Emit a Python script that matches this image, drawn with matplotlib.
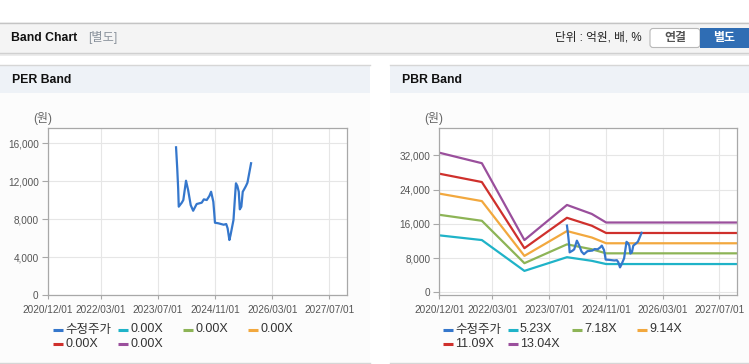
import matplotlib.pyplot as plt
import numpy as np
from matplotlib.patches import Rectangle, FancyBboxPatch

# 수정주가 (same series on both charts)
price_dates = np.array(['2023-12-01', '2023-12-11', '2023-12-19', '2023-12-24', '2024-01-19',
                        '2024-02-01', '2024-02-24', '2024-03-13', '2024-04-04', '2024-04-25',
                        '2024-05-25', '2024-07-07', '2024-07-25', '2024-08-19', '2024-09-10',
                        '2024-09-25', '2024-10-14', '2024-10-22', '2024-10-28', '2024-11-26',
                        '2025-01-10', '2025-02-01', '2025-02-13', '2025-02-28', '2025-03-10',
                        '2025-04-04', '2025-04-19', '2025-04-25', '2025-05-07', '2025-05-19',
                        '2025-05-28', '2025-06-10', '2025-06-22', '2025-07-04', '2025-07-19',
                        '2025-08-01', '2025-08-16', '2025-09-01'], dtype='datetime64[D]')
price_values = [15580, 13370, 11260, 9330, 9750, 10030, 12060, 11080, 9500, 8900,
                9610, 9750, 10100, 10030, 10450, 10900, 9850, 8630, 7640, 7580,
                7430, 7500, 7050, 5820, 6350, 7930, 10740, 11790, 11500, 10900,
                9050, 9330, 10900, 11160, 11500, 11850, 12840, 13900]

# PBR 밴드
band_dates = np.array(['2020-12-01', '2021-12-01', '2022-12-01', '2023-12-01',
                       '2024-07-01', '2024-11-01', '2027-12-01'], dtype='datetime64[D]')
pbr_523 = [13300, 12200, 5000, 8200, 7350, 6600, 6600]
pbr_718 = [18100, 16700, 6800, 11200, 10050, 9100, 9100]
pbr_914 = [23050, 21300, 8500, 14300, 12800, 11450, 11450]
pbr_1109 = [27700, 25750, 10300, 17400, 15550, 13850, 13850]
pbr_1304 = [32600, 30150, 12200, 20400, 18300, 16300, 16300]
pbr_labels = ['5.23X', '7.18X', '9.14X', '11.09X', '13.04X']
per_labels = ['0.00X', '0.00X', '0.00X', '0.00X', '0.00X']

tick_dates = np.array(['2020-12-01', '2022-03-01', '2023-07-01', '2024-11-01',
                       '2026-03-01', '2027-07-01'], dtype='datetime64[D]')
tick_labels = ['2020/12/01', '2022/03/01', '2023/07/01', '2024/11/01', '2026/03/01', '2027/07/01']
per_yticks = [0, 4000, 8000, 12000, 16000]
pbr_yticks = [0, 8000, 16000, 24000, 32000]

price_color = '#3577cc'
band_colors = ['#1fb3c8', '#8db456', '#f2a83e', '#cf302c', '#9a4f9c']

kr = ['Liberation Sans', 'Noto Sans CJK KR']

fig = plt.figure(figsize=(7.49, 3.64), dpi=100)
fig.patch.set_facecolor('white')

# 배경용 axes (픽셀 좌표, 위에서 아래로)
bg = fig.add_axes([0, 0, 1, 1], zorder=-1)
bg.set_xlim(0, 749)
bg.set_ylim(364, 0)
bg.axis('off')

# 상단 헤더 바
bg.add_patch(Rectangle((0, 53), 749, 3, facecolor='#ececec', edgecolor='none'))
bg.add_patch(Rectangle((0, 22), 749, 31, facecolor='#f4f4f4', edgecolor='none'))
bg.plot([0, 749], [22.5, 22.5], color='#c4c4c4', lw=1)
bg.plot([0, 749], [52.5, 52.5], color='#d0d0d0', lw=1)
bg.text(11, 38, 'Band Chart', fontsize=8.8, fontweight='bold', family=kr, va='center', color='#111')
bg.text(88, 38, '[별도]', fontsize=8.8, family=kr, va='center', color='#8a929c')
bg.text(642, 38, '단위 : 억원, 배, %', fontsize=8.4, family=kr, va='center', ha='right', color='#222')
bg.add_patch(FancyBboxPatch((650, 28.5), 50, 19, boxstyle='round,pad=0,rounding_size=3',
                            facecolor='white', edgecolor='#b8b8b8', lw=0.8))
bg.add_patch(Rectangle((700, 28), 49, 20, facecolor='#2f6db4', edgecolor='none'))
bg.text(675, 38, '연결', fontsize=8.6, fontweight='bold', family=kr, va='center', ha='center', color='#555')
bg.text(724, 38, '별도', fontsize=8.6, fontweight='bold', family=kr, va='center', ha='center', color='white')

# 패널 (PER / PBR)
for x0, x1, title in [(0, 370, 'PER Band'), (390, 749, 'PBR Band')]:
    bg.add_patch(Rectangle((x0, 64.5), x1 - x0, 299, facecolor='#fcfcfc', edgecolor='none'))
    bg.add_patch(Rectangle((x0, 64.5), x1 - x0, 28.5, facecolor='#eef2f7', edgecolor='none'))
    bg.plot([x0, x1], [64.5, 64.5], color='#d6d6d6', lw=1)
    bg.plot([x0, x1], [363.3, 363.3], color='#d6d6d6', lw=1)
    bg.text(x0 + 11.5, 80, title, fontsize=8.8, fontweight='bold', family=kr, va='center', color='#111')

bg.text(42.5, 118.5, '(원)', fontsize=8.6, family=kr, va='center', ha='center', color='#666')
bg.text(434, 118.5, '(원)', fontsize=8.6, family=kr, va='center', ha='center', color='#666')


def style_axis(ax, yticks, ylim):
    ax.set_facecolor('white')
    ax.set_xlim(np.datetime64('2020-12-01'), np.datetime64('2027-12-01'))
    ax.set_ylim(*ylim)
    ax.set_xticks(tick_dates)
    ax.set_xticklabels(tick_labels)
    ax.set_yticks(yticks)
    ax.set_yticklabels(['{:,}'.format(v) for v in yticks])
    ax.grid(True, color='#e6e6e6', lw=0.8)
    ax.set_axisbelow(True)
    for s in ax.spines.values():
        s.set_color('#a8a8a8')
        s.set_linewidth(0.9)
    ax.tick_params(axis='both', color='#a8a8a8', labelcolor='#555', labelsize=7.2)
    ax.tick_params(axis='x', length=3, pad=4)
    ax.tick_params(axis='y', length=4, pad=2.5)
    for t in ax.get_xticklabels() + ax.get_yticklabels():
        t.set_family(kr)


# PER 밴드
ax1 = fig.add_axes([47.7 / 749, (364 - 295.3) / 364, 299.6 / 749, 167 / 364])
style_axis(ax1, per_yticks, (0, 17580))
ax1.plot(price_dates, price_values, color=price_color, lw=1.6)

# PBR 밴드
ax2 = fig.add_axes([439.3 / 749, (364 - 295.3) / 364, 298 / 749, 167 / 364])
style_axis(ax2, pbr_yticks, (-700, 38300))
for vals, c in zip([pbr_523, pbr_718, pbr_914, pbr_1109, pbr_1304], band_colors):
    ax2.plot(band_dates, vals, color=c, lw=1.6)
ax2.plot(price_dates, price_values, color=price_color, lw=1.6)


# 범례 (직접 그림)
def draw_legend(x_start, labels):
    names = ['수정주가'] + labels
    colors = [price_color] + band_colors
    for i, (name, c) in enumerate(zip(names, colors)):
        x = x_start + (i % 4) * 64.8
        y = 329.5 + (i // 4) * 14.7
        bg.plot([x, x + 10], [y, y], color=c, lw=2.2, solid_capstyle='butt')
        bg.text(x + 12.5, y, name, fontsize=9, family=kr, va='center', color='#333')


draw_legend(53.3, per_labels)
draw_legend(442.7, pbr_labels)

plt.savefig('out.png', dpi=100)
